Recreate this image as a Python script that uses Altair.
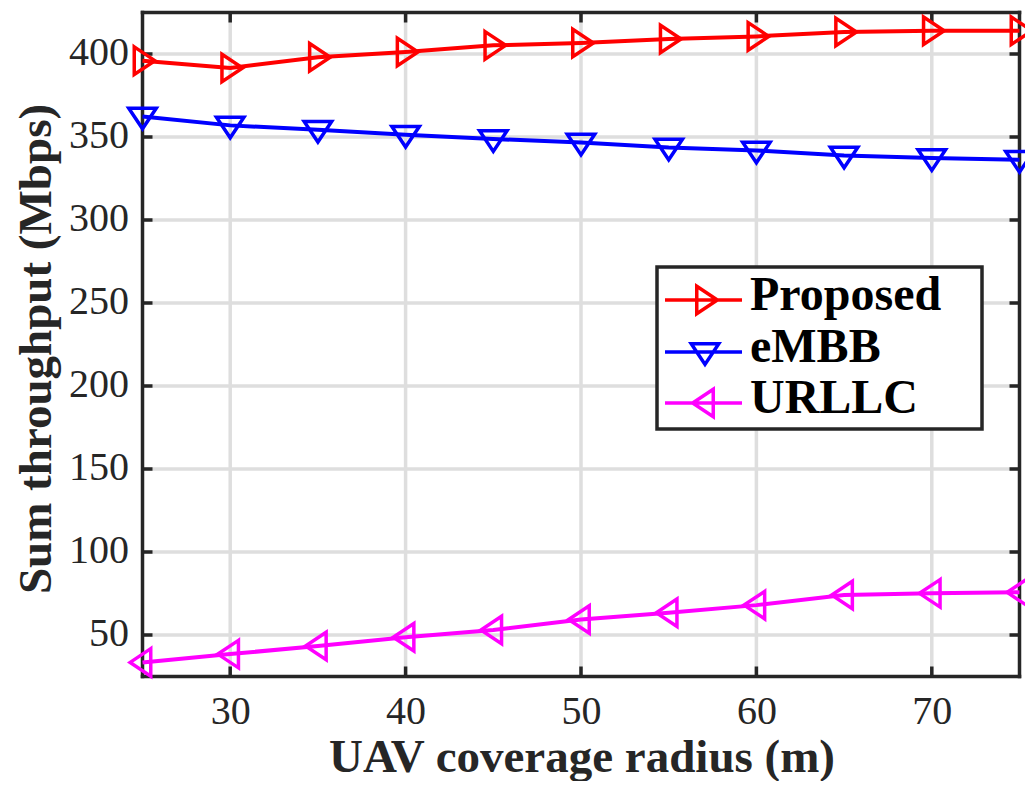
import altair as alt
import pandas as pd

# ---------------- data ----------------
radius = [25, 30, 35, 40, 45, 50, 55, 60, 65, 70, 75]
proposed = [396.0, 391.6, 398.0, 401.2, 405.2, 406.6, 409.0, 410.6, 413.3, 414.0, 414.0]
embb = [362.4, 357.0, 354.4, 351.4, 348.8, 346.7, 343.7, 341.9, 338.9, 337.3, 336.3]
urllc = [33.5, 38.5, 43.4, 48.6, 53.0, 59.3, 63.4, 68.0, 74.1, 75.1, 75.7]

series_names = ["Proposed", "eMBB", "URLLC"]
series_colors = ["#ff0000", "#0000ff", "#ff00ff"]

x_ticks = [30, 40, 50, 60, 70]
y_ticks = [50, 100, 150, 200, 250, 300, 350, 400]
x_domain = [25, 75]
y_domain = [25, 425]

x_title = "UAV coverage radius (m)"
y_title = "Sum throughput (Mbps)"

# ---------------- style ----------------
W, H = 877, 664
FRAME = "#262626"
GRID = "#dedede"
SERIF = "Liberation Serif"

# marker paths (MATLAB-like triangles)
marker_paths = [
    "M-0.6,-1L0.9,0L-0.6,1Z",      # >
    "M-1,-0.6L1,-0.6L0,0.9Z",      # v
    "M0.6,-1L-0.9,0L0.6,1Z",       # <
]
# legend symbols: line + triangle
legend_paths = [
    "M-1.4,0.267H3.733M0.717,-0.65L2.092,0.267L0.717,1.183Z",
    "M-1.4,0.267H3.733M0.35,-0.283L2.183,-0.283L1.267,1.092Z",
    "M-1.4,0.267H3.733M1.817,-0.65L0.442,0.267L1.817,1.183Z",
]

values = [proposed, embb, urllc]
rows = []
for name, ys in zip(series_names, values):
    for xv, yv in zip(radius, ys):
        rows.append({"radius": xv, "throughput": yv, "series": name})
df = pd.DataFrame(rows)

xscale = alt.Scale(domain=x_domain, nice=False, zero=False)
yscale = alt.Scale(domain=y_domain, nice=False, zero=False)

x_axis = alt.Axis(
    values=x_ticks, grid=False, domain=False, ticks=False,
    labelFont=SERIF, labelFontSize=40, labelColor=FRAME,
    labelPadding=47, labelBaseline="alphabetic", labelOverlap=False, labelFlush=False,
    title=x_title, titleFont=SERIF, titleFontSize=47, titleFontWeight="bold",
    titleColor=FRAME, titleX=439, titleY=95, titleBaseline="alphabetic",
    titleAlign="center",
)
y_axis = alt.Axis(
    values=y_ticks, grid=False, domain=False, ticks=False,
    labelFont=SERIF, labelFontSize=40, labelColor=FRAME,
    labelPadding=14, labelOffset=-1.3, labelOverlap=False, labelFlush=False,
    title=y_title, titleFont=SERIF, titleFontSize=47, titleFontWeight="bold",
    titleColor=FRAME, titleX=-92, titleY=336, titleAngle=-90,
    titleBaseline="alphabetic", titleAlign="center",
)


def X():
    return alt.X("radius:Q", scale=xscale, axis=x_axis)


def Y():
    return alt.Y("throughput:Q", scale=yscale, axis=y_axis)


xt_df = pd.DataFrame({"radius": x_ticks})
yt_df = pd.DataFrame({"throughput": y_ticks})
xf_df = pd.DataFrame({"radius": x_domain})
yf_df = pd.DataFrame({"throughput": y_domain})

layers = []
# gridlines
layers.append(alt.Chart(xt_df).mark_rule(color=GRID, strokeWidth=3.5).encode(x=X()))
layers.append(alt.Chart(yt_df).mark_rule(color=GRID, strokeWidth=3.5).encode(y=Y()))
# frame
layers.append(alt.Chart(xf_df).mark_rule(color=FRAME, strokeWidth=3.5, strokeCap="square").encode(x=X()))
layers.append(alt.Chart(yf_df).mark_rule(color=FRAME, strokeWidth=3.5, strokeCap="square").encode(y=Y()))
# inward ticks
TL = 10
layers.append(alt.Chart(xt_df).mark_rule(color=FRAME, strokeWidth=3.5).encode(
    x=X(), y=alt.value(H), y2=alt.value(H - TL)))
layers.append(alt.Chart(xt_df).mark_rule(color=FRAME, strokeWidth=3.5).encode(
    x=X(), y=alt.value(0), y2=alt.value(TL)))
layers.append(alt.Chart(yt_df).mark_rule(color=FRAME, strokeWidth=3.5).encode(
    y=Y(), x=alt.value(0), x2=alt.value(TL)))
layers.append(alt.Chart(yt_df).mark_rule(color=FRAME, strokeWidth=3.5).encode(
    y=Y(), x=alt.value(W), x2=alt.value(W - TL)))

# series lines and markers
for name, color, path in zip(series_names, series_colors, marker_paths):
    sub = df[df["series"] == name]
    layers.append(alt.Chart(sub).mark_line(color=color, strokeWidth=4).encode(x=X(), y=Y()))
    layers.append(alt.Chart(sub).mark_point(
        shape=path, size=756, filled=False, color=color, strokeWidth=3.5, opacity=1
    ).encode(x=X(), y=Y()))

# legend (layer without visible marks)
legend = alt.Legend(
    orient="none", legendX=514.5, legendY=254.5, title=None,
    padding=5, rowPadding=3,
    labelFont=SERIF, labelFontSize=48, labelFontWeight="bold", labelColor="black",
    labelOffset=40, labelLimit=500, labelExpr="datum.label + '\u2800'",
    symbolSize=900, symbolStrokeWidth=3.5,
    strokeColor=FRAME, fillColor="white",
)
layers.append(
    alt.Chart(df).transform_filter("false").mark_point(filled=False, strokeWidth=3.5, opacity=1).encode(
        x=X(), y=Y(),
        color=alt.Color("series:N", scale=alt.Scale(domain=series_names, range=series_colors), legend=legend),
        shape=alt.Shape("series:N", scale=alt.Scale(domain=series_names, range=legend_paths), legend=legend),
    )
)

chart = alt.layer(*layers).properties(
    width=W, height=H,
    autosize=alt.AutoSizeParams(type="none"),
    padding={"left": 134.5, "top": 4.5, "right": 5, "bottom": 104},
    background="white",
).configure_view(strokeWidth=0).configure_legend(strokeWidth=3.5)

chart.save("out.html", embed_options={"renderer": "svg", "actions": False})
